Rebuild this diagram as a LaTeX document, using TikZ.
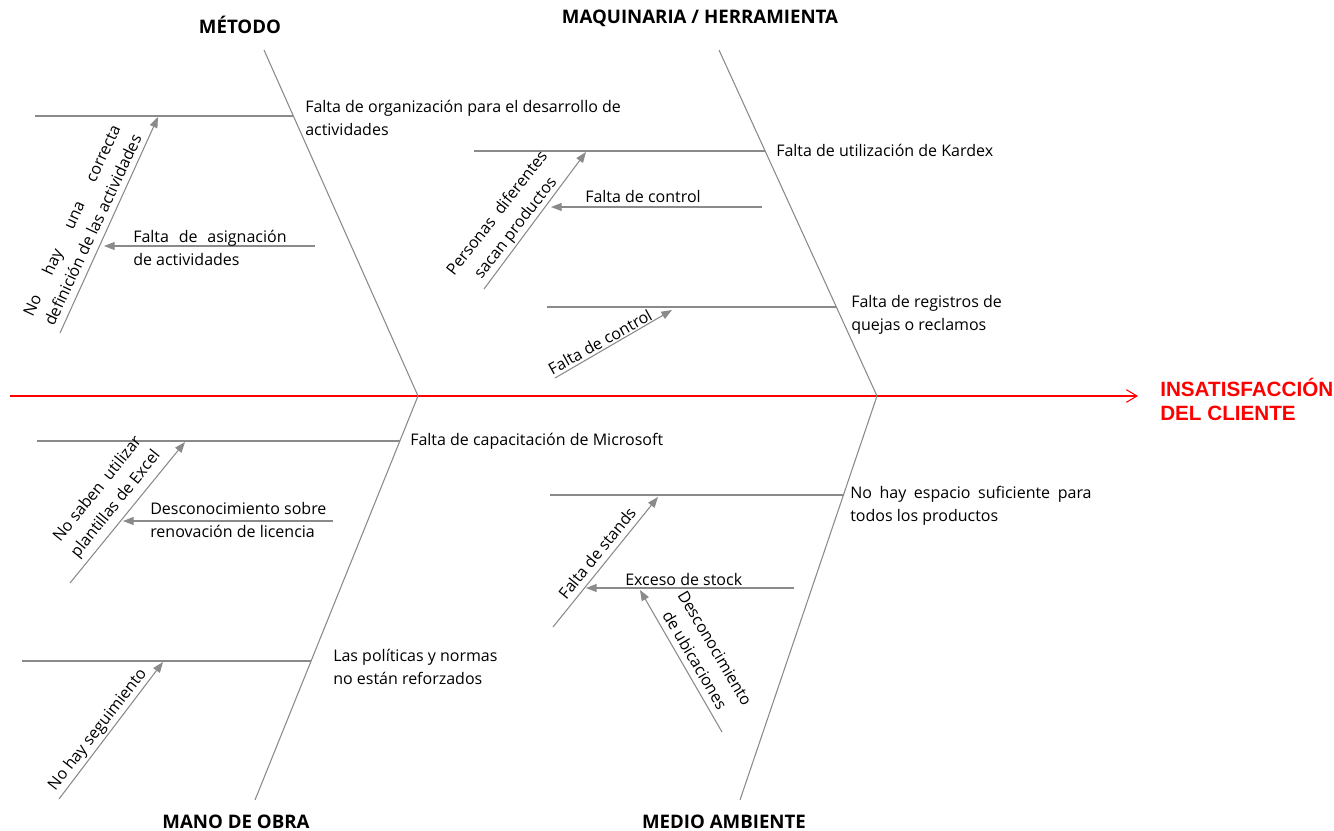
\documentclass[tikz,border=0pt]{standalone}
\usepackage{fontspec}
\setmainfont{Open Sans}
\newfontfamily\redfont{Liberation Sans}
\usepackage{calc}
\usetikzlibrary{arrows.meta}
\definecolor{bonegray}{HTML}{8A8A8A}
\definecolor{effred}{HTML}{FF0000}
\begin{document}
\begin{tikzpicture}[x=0.75pt,y=-0.75pt,
  boneline/.style={draw=bonegray, line width=0.8pt},
  subarrow/.style={boneline, -{Triangle[length=8pt,width=6pt]}},
  lbl/.style={inner sep=0pt, font=\fontsize{12}{17.5}\selectfont, align=left, anchor=west},
  rlbl/.style={inner sep=0pt, font=\fontsize{12}{17.5}\selectfont, align=center},
  ttl/.style={inner sep=0pt, font=\fontsize{14}{16}\selectfont\bfseries},
]
\useasboundingbox (0,0) rectangle (1334,831);

% spine and main bones
\coordinate (s0) at (10,396);
\coordinate (s1) at (1138,396);
\coordinate (jA) at (418,396);
\coordinate (jB) at (877,396);
\coordinate (tA) at (264,50);
\coordinate (tB) at (719,50);
\coordinate (bA) at (255,800);
\coordinate (bB) at (740,800);
\draw[draw=effred, line width=0.8pt, -{Straight Barb[length=8pt,width=9.5pt]}] (s0) -- (s1);
\draw[boneline] (tA) -- (jA);
\draw[boneline] (tB) -- (jB);
\draw[boneline] (bA) -- (jA);
\draw[boneline] (bB) -- (jB);

% titles
\node[ttl] (tM) at (240,25) {MÉTODO};
\node[ttl] (tMq) at (700,18) {MAQUINARIA / HERRAMIENTA};
\node[ttl] (tMo) at (236,822) {MANO DE OBRA};
\node[ttl] (tMa) at (724,822) {MEDIO AMBIENTE};
\node[inner sep=0pt, anchor=west, align=left, text=effred, font=\redfont\fontsize{15.5}{18}\selectfont\bfseries] (eff) at (1160,399) {INSATISFACCIÓN\\DEL CLIENTE};

% ---------- MÉTODO ----------
\coordinate (a1l) at (35,116);
\coordinate (a1r) at (293,116);
\draw[boneline] (a1l) -- (a1r);
\node[lbl] (la1) at (305,118) {Falta de organización para el desarrollo de\\actividades};
\coordinate (a1xs) at (60,333);
\coordinate (a1xe) at (158,117);
\draw[subarrow] (a1xs) -- (a1xe);
\node[rlbl, rotate=65] (la1x) at (82,225) {\makebox[\widthof{definición de las actividades}][s]{No hay una correcta}\\definición de las actividades};
\coordinate (a1ys) at (315,246);
\coordinate (a1ye) at (104,246);
\draw[subarrow] (a1ys) -- (a1ye);
\node[lbl] (la1y) at (133,248) {\makebox[115pt][s]{Falta de asignación}\\de actividades};

% ---------- MAQUINARIA ----------
\coordinate (b1l) at (474,151);
\coordinate (b1r) at (765,151);
\draw[boneline] (b1l) -- (b1r);
\node[lbl] (lb1) at (776,150) {Falta de utilización de Kardex};
\coordinate (b1xs) at (484,289);
\coordinate (b1xe) at (586,152);
\draw[subarrow] (b1xs) -- (b1xe);
\node[rlbl, rotate=52] (lb1x) at (507,221) {Personas\ \ diferentes\\sacan productos};
\coordinate (b1ys) at (762,207);
\coordinate (b1ye) at (551,207);
\draw[subarrow] (b1ys) -- (b1ye);
\node[lbl] (lb1y) at (585,196) {Falta de control};
\coordinate (b2l) at (547,307);
\coordinate (b2r) at (836,307);
\draw[boneline] (b2l) -- (b2r);
\node[lbl] (lb2) at (851,315) {Falta de registros de\\quejas o reclamos};
\coordinate (b2xs) at (555,378);
\coordinate (b2xe) at (672,310);
\draw[subarrow] (b2xs) -- (b2xe);
\node[rlbl, rotate=29] (lb2x) at (600,342) {Falta de control};

% ---------- MANO DE OBRA ----------
\coordinate (c1l) at (37,441);
\coordinate (c1r) at (400,441);
\draw[boneline] (c1l) -- (c1r);
\node[lbl] (lc1) at (410,441) {Falta de capacitación de Microsoft};
\coordinate (c1xs) at (70,583);
\coordinate (c1xe) at (185,442);
\draw[subarrow] (c1xs) -- (c1xe);
\node[rlbl, rotate=51] (lc1x) at (107,497) {No saben\ \ utilizar\\plantillas de Excel};
\coordinate (c1ys) at (333,521);
\coordinate (c1ye) at (123,521);
\draw[subarrow] (c1ys) -- (c1ye);
\node[lbl] (lc1y) at (150,520) {Desconocimiento sobre\\renovación de licencia};
\coordinate (c2l) at (22,661);
\coordinate (c2r) at (311,661);
\draw[boneline] (c2l) -- (c2r);
\node[lbl] (lc2) at (333,667) {Las políticas y normas\\no están reforzados};
\coordinate (c2xs) at (59,799);
\coordinate (c2xe) at (163,662);
\draw[subarrow] (c2xs) -- (c2xe);
\node[rlbl, rotate=52] (lc2x) at (98,730) {No hay seguimiento};

% ---------- MEDIO AMBIENTE ----------
\coordinate (d1l) at (550,495);
\coordinate (d1r) at (843,495);
\draw[boneline] (d1l) -- (d1r);
\node[lbl] (ld1) at (850,506) {\makebox[181pt][s]{No hay espacio suficiente para}\\todos los productos};
\coordinate (d1xs) at (553,627);
\coordinate (d1xe) at (658,497);
\draw[subarrow] (d1xs) -- (d1xe);
\node[rlbl, rotate=51] (ld1x) at (597,553) {Falta de stands};
\coordinate (d1ys) at (794,588);
\coordinate (d1ye) at (586,588);
\draw[subarrow] (d1ys) -- (d1ye);
\node[lbl] (ld1y) at (625,579) {Exceso de stock};
\coordinate (d1zs) at (722,732);
\coordinate (d1ze) at (640,590);
\draw[subarrow] (d1zs) -- (d1ze);
\node[rlbl, rotate=-59.5] (ld1z) at (705,654) {Desconocimiento\\de ubicaciones};
\end{tikzpicture}
\end{document}
